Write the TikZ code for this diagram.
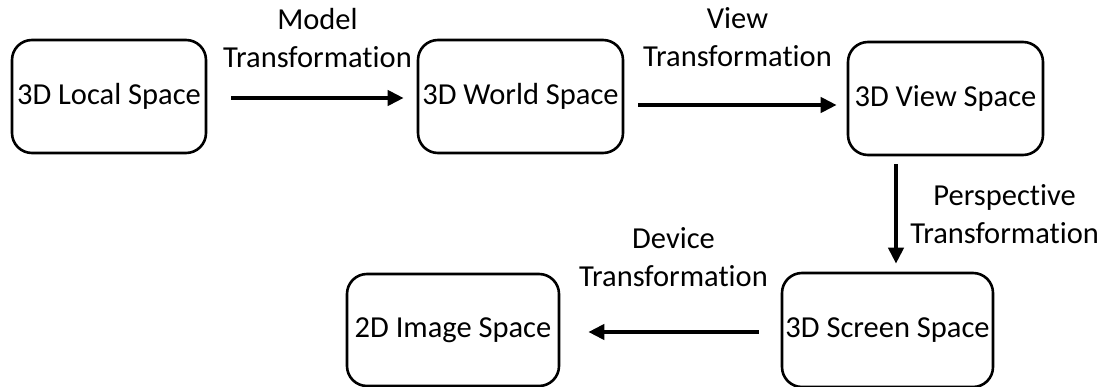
\documentclass[tikz,border=0pt]{standalone}
\usepackage{fontspec}
\setmainfont{Carlito}[Ligatures=NoCommon]
\usetikzlibrary{positioning,arrows.meta}

\begin{document}
\begin{tikzpicture}[
  x=1pt, y=-1pt,
  font=\fontsize{30.5}{38}\selectfont,
  space/.style={draw, rounded corners=20pt, line width=2.6pt, align=center,
    minimum height=113pt, inner sep=2pt},
  arrow/.style={-{Triangle[length=16pt,width=15pt]}, line width=4.6pt},
  lbl/.style={align=center, inner sep=0pt}
]
\useasboundingbox (0,0) rectangle (1099,387);
\node[space, minimum width=194pt] (local) at (109,96.5) {3D Local Space};
\node[space, minimum width=205pt] (world) at (520.5,96.5) {3D World Space};
\node[space, minimum width=195pt] (view) at (945.5,98.5) {3D View Space};
\node[space, minimum width=211pt, minimum height=114pt] (screen) at (887.5,330) {3D Screen Space};
\node[space, minimum width=212pt, minimum height=112pt] (image) at (453,330) {2D Image Space};

\draw[arrow] ([xshift=24pt,yshift=-1.5pt]local.east) --
  node[lbl, above=28pt] (model) {Model\\Transformation} ([xshift=-13pt,yshift=-1.5pt]world.west);
\draw[arrow] ([xshift=14pt,yshift=-8.5pt]world.east) --
  node[lbl, above=36pt] (viewlbl) {View\\Transformation} ([xshift=-10pt,yshift=-6.5pt]view.west);
\draw[arrow] ([xshift=-49.5pt,yshift=-8pt]view.south) --
  node[lbl, right=12pt] (persp) {Perspective\\Transformation} ([xshift=8.5pt,yshift=8pt]screen.north);
\draw[arrow] ([xshift=-22pt,yshift=-2pt]screen.west) --
  node[lbl, above=43pt] (device) {Device\\Transformation} ([xshift=28pt,yshift=-2pt]image.east);
\end{tikzpicture}
\end{document}
